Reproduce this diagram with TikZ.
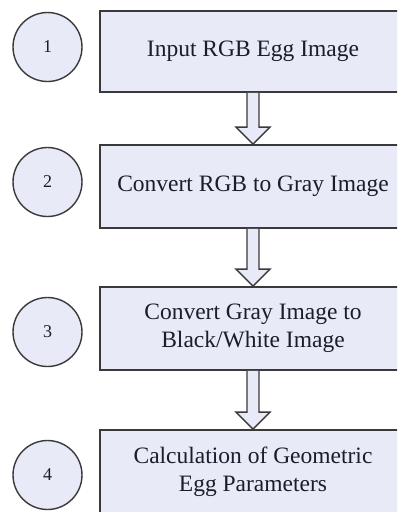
\documentclass[tikz,border=0pt]{standalone}
\usepackage{fontspec}
\setmainfont{Liberation Serif}
\usetikzlibrary{calc}
\definecolor{boxfill}{HTML}{E8EBF7}
\definecolor{edge}{HTML}{3A3A3A}
\definecolor{ink}{HTML}{1C1C2C}
\tikzset{
  stepbox/.style={draw=edge, line width=1.8pt, fill=boxfill, rectangle,
    minimum width=306pt, inner sep=0pt, align=center, text=ink,
    font=\fontsize{23.5pt}{28pt}\selectfont},
  numcircle/.style={draw=edge, line width=1.4pt, fill=boxfill, circle,
    minimum size=69pt, inner sep=0pt, text=ink,
    font=\fontsize{18pt}{20pt}\selectfont},
  blockarrow/.style={draw=edge, line width=1.3pt, fill=boxfill, line join=miter}
}
% hollow block arrow from the bottom of one box to the top of the next
\newcommand{\flowarrow}[2]{%
  \path[blockarrow] let \p1=(#1.south), \p2=(#2.north) in
    (\x1-6pt,\y1) -- (\x1-6pt,\y2+17pt) -- (\x1-17pt,\y2+17pt) -- (\x2,\y2)
    -- (\x1+17pt,\y2+17pt) -- (\x1+6pt,\y2+17pt) -- (\x1+6pt,\y1);}
\begin{document}
\begin{tikzpicture}[x=1pt,y=-1pt]
\clip (0,0) rectangle (397,512);
\fill[white] (0,0) rectangle (397,512);

\node[stepbox, minimum height=81pt] (b1) at (253,51.5) {Input RGB Egg Image};
\node[stepbox, minimum height=83pt] (b2) at (253,186.5) {Convert RGB to Gray Image};
\node[stepbox, minimum height=83pt] (b3) at (253,328.5) {Convert Gray Image to\\Black/White Image};
\node[stepbox, minimum height=83pt] (b4) at (253,471.5) {Calculation of Geometric\\Egg Parameters};

\node[numcircle] (c1) at (47.5,47) {1};
\node[numcircle] (c2) at (47.5,182) {2};
\node[numcircle] (c3) at (47.5,332) {3};
\node[numcircle] (c4) at (47.5,475) {4};

\flowarrow{b1}{b2}
\flowarrow{b2}{b3}
\flowarrow{b3}{b4}
\end{tikzpicture}
\end{document}
